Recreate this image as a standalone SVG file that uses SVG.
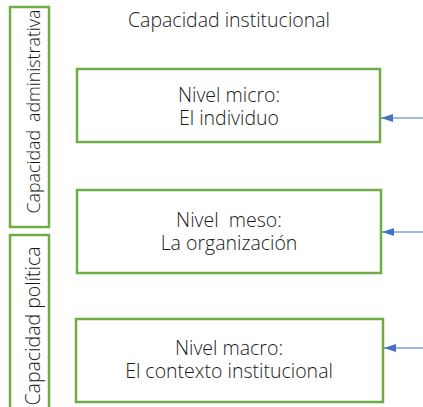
<svg xmlns="http://www.w3.org/2000/svg" width="423" height="407" viewBox="0 0 423 407">
<style>
.box{fill:#fff;stroke:#70AD47;stroke-width:2.5}
.t{font-family:"Open Sans","Noto Sans","Liberation Sans",sans-serif;font-size:19.5px;font-weight:300;fill:#1a1a1a;text-anchor:middle}
.v1{font-size:17.8px}
.c{stroke:#4472C4;stroke-width:1.2;fill:none}
</style>
<defs>
<marker id="ah" viewBox="0 0 12 8" refX="12" refY="4" markerWidth="12" markerHeight="8" markerUnits="userSpaceOnUse" orient="auto">
<path d="M0,0 L12,4 L0,8 Z" fill="#4472C4"/>
</marker>
</defs>
<text class="t" x="229" y="27">Capacidad institucional</text>
<g id="cap-admin">
<rect class="box" x="10" y="7" width="39" height="220"/>
<text class="t v1" transform="translate(39.5,111.5) rotate(-90)">Capacidad<tspan dx="8">administrativa</tspan></text>
</g>
<g id="cap-pol">
<rect class="box" x="10" y="235" width="39" height="180"/>
<text class="t" transform="translate(40,326) rotate(-90)">Capacidad política</text>
</g>
<g id="micro">
<rect class="box" x="77" y="69" width="303" height="73"/>
<text class="t" x="229" y="102">Nivel micro:<tspan x="229" dy="23">El individuo</tspan></text>
</g>
<g id="meso">
<rect class="box" x="77" y="190" width="304" height="83"/>
<text class="t" x="229" y="227" xml:space="preserve">Nivel  meso:<tspan x="229" dy="23">La organización</tspan></text>
</g>
<g id="macro">
<rect class="box" x="76" y="319" width="307" height="83"/>
<text class="t" x="229" y="355">Nivel macro:<tspan x="229" dy="23">El contexto institucional</tspan></text>
</g>
<g id="connectors">
<line class="c" x1="423" y1="118" x2="381" y2="118" marker-end="url(#ah)"/>
<line class="c" x1="423" y1="232" x2="382" y2="232" marker-end="url(#ah)"/>
<line class="c" x1="423" y1="348" x2="384" y2="348" marker-end="url(#ah)"/>
</g>
</svg>
